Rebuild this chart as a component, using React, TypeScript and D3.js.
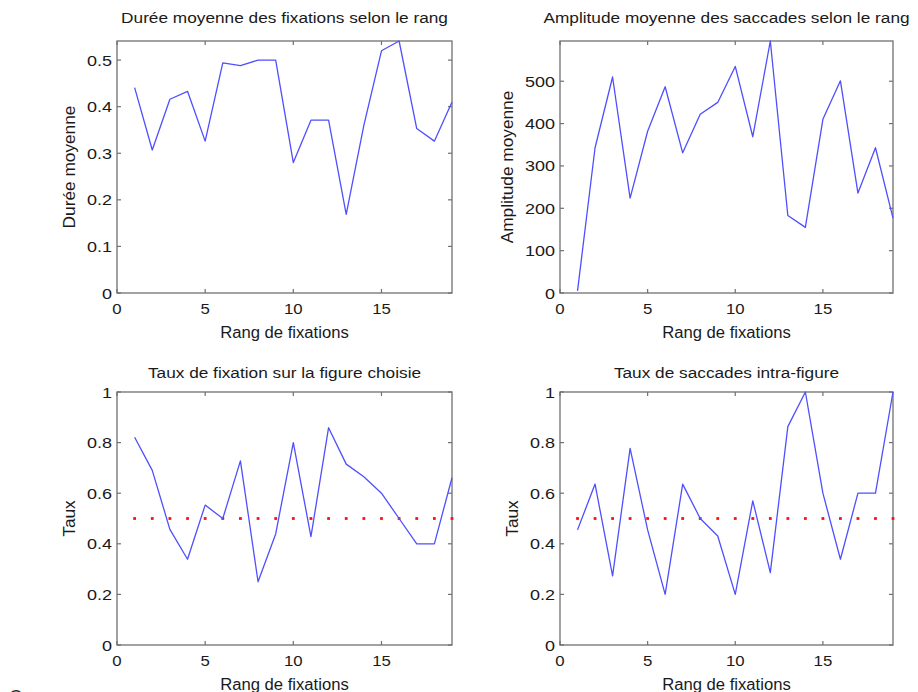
import React from "react";
import * as d3 from "d3";

const rangs = d3.range(1, 20);

const dureeMoyenne = [0.441, 0.307, 0.416, 0.433, 0.326, 0.494, 0.488, 0.5, 0.5, 0.28, 0.371, 0.371, 0.169, 0.36, 0.52, 0.541, 0.353, 0.326, 0.41];
const amplitudeMoyenne = [5, 343, 510, 224, 382, 487, 331, 422, 450, 535, 369, 595, 183, 155, 410, 501, 236, 343, 177];
const tauxFixation = [0.821, 0.69, 0.457, 0.339, 0.553, 0.5, 0.728, 0.25, 0.439, 0.8, 0.428, 0.859, 0.715, 0.665, 0.6, 0.5, 0.4, 0.4, 0.661];
const tauxSaccades = [0.455, 0.636, 0.273, 0.777, 0.455, 0.2, 0.636, 0.5, 0.431, 0.2, 0.57, 0.286, 0.863, 1.0, 0.6, 0.339, 0.6, 0.6, 1.0];
const seuil = 0.5;

const xTicks = [0, 5, 10, 15];
const yTicksDuree = [0, 0.1, 0.2, 0.3, 0.4, 0.5];
const yTicksAmplitude = [0, 100, 200, 300, 400, 500];
const yTicksTaux = [0, 0.2, 0.4, 0.6, 0.8, 1];

const titles = [
  "Durée moyenne des fixations selon le rang",
  "Amplitude moyenne des saccades selon le rang",
  "Taux de fixation sur la figure choisie",
  "Taux de saccades intra-figure",
];
const yLabels = ["Durée moyenne", "Amplitude moyenne", "Taux", "Taux"];
const xLabel = "Rang de fixations";

const FONT = "'Liberation Sans', Arial, Helvetica, sans-serif";
const BOX = "#707070";
const BLUE = "#4f4fff";
const INK = "#1a1a1a";

type SProps = { x: number; y: number; sx: number; size: number; anchor: string; rotate?: number; children: React.ReactNode };
function SText({ x, y, sx, size, anchor, rotate = 0, children }: SProps) {
  return (
    <g transform={`translate(${x},${y}) rotate(${rotate}) scale(${sx},1)`}>
      <text x={0} y={0} textAnchor={anchor} fontSize={size} fill={INK}>{children}</text>
    </g>
  );
}

type PanelProps = {
  left: number; right: number; top: number; bottom: number;
  values: number[]; yMax: number; yTicks: number[];
  title: string; yLabel: string; yFmt: (v: number) => string;
  threshold?: number; yLabelX: number; titleY: number;
};

function Panel(p: PanelProps) {
  const x = d3.scaleLinear().domain([0, 19]).range([p.left, p.right]);
  const y = d3.scaleLinear().domain([0, p.yMax]).range([p.bottom, p.top]);
  const line = d3.line<number>().x((_, i) => x(rangs[i])).y((d) => y(d));
  const tl = 4;
  const cx = (p.left + p.right) / 2;
  const cy = (p.top + p.bottom) / 2;
  return (
    <g>
      <rect x={p.left} y={p.top} width={p.right - p.left} height={p.bottom - p.top} fill="#fff" stroke={BOX} strokeWidth={1.3} />
      {xTicks.map((t) => (
        <g key={"x" + t}>
          <line x1={x(t)} x2={x(t)} y1={p.bottom} y2={p.bottom - tl} stroke={BOX} strokeWidth={1.2} />
          <line x1={x(t)} x2={x(t)} y1={p.top} y2={p.top + tl} stroke={BOX} strokeWidth={1.2} />
          <SText x={x(t)} y={p.bottom + 21} sx={1.12} size={15} anchor="middle">{t}</SText>
        </g>
      ))}
      {p.yTicks.map((t) => (
        <g key={"y" + t}>
          <line x1={p.left} x2={p.left + tl} y1={y(t)} y2={y(t)} stroke={BOX} strokeWidth={1.2} />
          <line x1={p.right} x2={p.right - tl} y1={y(t)} y2={y(t)} stroke={BOX} strokeWidth={1.2} />
          <SText x={p.left - 5} y={y(t) + 5.5} sx={1.2} size={15} anchor="end">{p.yFmt(t)}</SText>
        </g>
      ))}
      {p.threshold !== undefined &&
        rangs.map((r) => (
          <rect key={"d" + r} x={x(r) - 1.4} y={y(p.threshold as number) - 1.4} width={2.8} height={2.8} fill="#ff1010" />
        ))}
      <path d={line(p.values) || ""} fill="none" stroke={BLUE} strokeWidth={1.3} strokeLinejoin="round" />
      <SText x={cx} y={p.titleY} sx={1.15} size={15} anchor="middle">{p.title}</SText>
      <SText x={cx} y={p.bottom + 45} sx={1.04} size={16} anchor="middle">{xLabel}</SText>
      <SText x={p.yLabelX} y={cy} rotate={-90} sx={1.08} size={16} anchor="middle">{p.yLabel}</SText>
    </g>
  );
}

export default function App() {
  const fmtDec = (v: number) => (v === 0 ? "0" : d3.format(".1f")(v));
  const fmtTaux = (v: number) => (v === 0 || v === 1 ? String(v) : d3.format(".1f")(v));
  return (
    <svg width={918} height={692} style={{ position: "absolute", left: 0, top: 0, fontFamily: FONT, background: "#fff" }}>
      <rect width={918} height={692} fill="#fff" />
      <Panel left={117} right={452} top={41} bottom={293} values={dureeMoyenne} yMax={0.541} yTicks={yTicksDuree}
        title={titles[0]} yLabel={yLabels[0]} yFmt={fmtDec} yLabelX={75} titleY={23} />
      <Panel left={560} right={893} top={41} bottom={293} values={amplitudeMoyenne} yMax={595} yTicks={yTicksAmplitude}
        title={titles[1]} yLabel={yLabels[1]} yFmt={(v) => String(v)} yLabelX={513} titleY={23} />
      <Panel left={117} right={452} top={392} bottom={645} values={tauxFixation} yMax={1} yTicks={yTicksTaux}
        title={titles[2]} yLabel={yLabels[2]} yFmt={fmtTaux} threshold={seuil} yLabelX={75} titleY={378} />
      <Panel left={560} right={893} top={392} bottom={645} values={tauxSaccades} yMax={1} yTicks={yTicksTaux}
        title={titles[3]} yLabel={yLabels[3]} yFmt={fmtTaux} threshold={seuil} yLabelX={518} titleY={378} />
      <text x={9} y={703} fontSize={18} fill="#333">O</text>
    </svg>
  );
}
